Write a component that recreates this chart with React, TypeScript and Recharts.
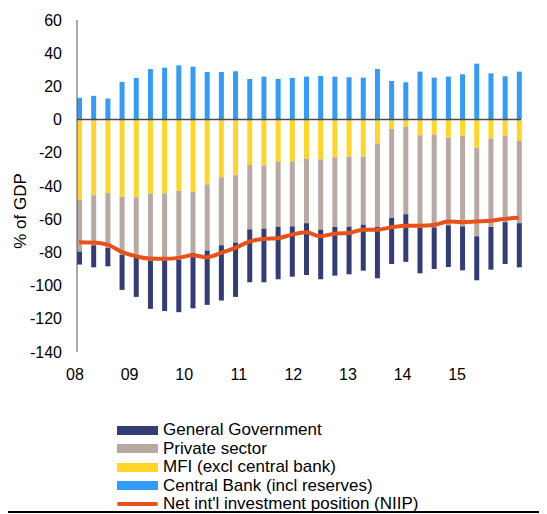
import { ComposedChart, Bar, Line, XAxis, YAxis, ReferenceLine } from 'recharts'

// quarterly, 2008Q1 .. 2015Q4 (% of GDP)
const quarters = [
  '08Q1', '08Q2', '08Q3', '08Q4', '09Q1', '09Q2', '09Q3', '09Q4',
  '10Q1', '10Q2', '10Q3', '10Q4', '11Q1', '11Q2', '11Q3', '11Q4',
  '12Q1', '12Q2', '12Q3', '12Q4', '13Q1', '13Q2', '13Q3', '13Q4',
  '14Q1', '14Q2', '14Q3', '14Q4', '15Q1', '15Q2', '15Q3', '15Q4',
]
const yearTicks = [8, 9, 10, 11, 12, 13, 14, 15]
const yearLabels = ['08', '09', '10', '11', '12', '13', '14', '15']

const centralBank = [
  13.1, 14.3, 12.7, 22.7, 25.1, 30.5, 31.3, 32.7,
  31.9, 28.7, 28.7, 29.1, 24.5, 25.9, 24.5, 25.1,
  25.9, 26.3, 25.9, 25.5, 25.3, 30.5, 23.3, 22.5,
  28.9, 25.3, 25.9, 27.3, 33.7, 27.9, 26.1, 28.9,
]
const mfi = [
  -48.2, -45.6, -44.2, -46.4, -46.8, -44.6, -44.4, -42.8,
  -43.6, -39.0, -34.7, -33.5, -27.1, -27.7, -25.5, -25.1,
  -23.5, -23.9, -22.7, -22.3, -22.3, -14.3, -5.6, -4.2,
  -9.4, -9.0, -11.0, -9.8, -16.9, -11.4, -9.6, -12.9,
]
const privateSector = [
  -31.3, -30.1, -33.1, -35.1, -36.5, -40.3, -40.5, -41.5,
  -36.7, -39.9, -41.0, -40.6, -39.0, -38.0, -39.0, -39.2,
  -38.9, -42.4, -42.0, -42.2, -41.0, -50.4, -53.6, -52.8,
  -55.9, -55.9, -52.7, -54.5, -53.4, -53.3, -52.2, -49.5,
]
const generalGov = [
  -7.8, -13.3, -11.1, -21.1, -23.5, -29.1, -30.4, -31.7,
  -33.4, -32.7, -33.3, -32.7, -31.9, -32.3, -31.7, -30.3,
  -31.2, -29.9, -29.3, -28.7, -27.7, -30.9, -27.8, -28.7,
  -27.3, -25.1, -25.1, -26.5, -26.5, -25.7, -25.2, -26.6,
]
const niip = [
  -73.9, -74.1, -75.3, -79.7, -82.3, -83.7, -83.9, -83.3,
  -81.7, -82.9, -80.3, -77.3, -73.5, -71.9, -71.5, -69.3,
  -67.9, -70.3, -68.7, -68.3, -66.3, -66.3, -64.9, -63.9,
  -63.9, -63.5, -61.4, -61.8, -61.4, -61.0, -59.8, -59.2,
]
const yTicks = [60, 40, 20, 0, -20, -40, -60, -80, -100, -120, -140]

const data = quarters.map((q, i) => ({
  q,
  // year as a number (08Q1 -> 8, 08Q3 -> 8.5), only used to place the year labels
  t: Number(q.slice(0, 2)) + (Number(q[3]) - 1) / 4,
  cb: centralBank[i],
  mfi: mfi[i],
  priv: privateSector[i],
  gg: generalGov[i],
  niip: niip[i],
}))

const NAVY = '#333c74'
const TAUPE = '#b8aaa2'
const YELLOW = '#ffd628'
const BLUE = '#339bfa'
const ORANGE = '#e8521a'

const legendItems = [
  { name: 'General Government', color: NAVY, line: false },
  { name: 'Private sector', color: TAUPE, line: false },
  { name: 'MFI (excl central bank)', color: YELLOW, line: false },
  { name: 'Central Bank (incl reserves)', color: BLUE, line: false },
  { name: "Net int'l investment position (NIIP)", color: ORANGE, line: true },
]

const FONT = '"Liberation Sans", Arial, sans-serif'

const App = () => {
  return (
    <div style={{ position: 'relative', width: 539, height: 506, fontFamily: FONT }}>
      <ComposedChart
        width={539}
        height={374}
        data={data}
        stackOffset='sign'
        margin={{ top: 12, right: 26, bottom: 0, left: 0 }}
      >
        <XAxis dataKey='q' hide height={0} padding={{ left: -5, right: -5 }} />
        <XAxis
          xAxisId='yr'
          dataKey='t'
          type='number'
          domain={[8, 16.17]}
          allowDataOverflow
          ticks={yearTicks}
          interval={0}
          tickFormatter={(v) => yearLabels[yearTicks.indexOf(v)]}
          padding={{ left: -2, right: 0 }}
          height={30}
          axisLine={false}
          tickLine={false}
          tickSize={0}
          tickMargin={17}
          tick={{ fill: '#000', fontSize: 16, fontFamily: FONT }}
        />
        <YAxis
          width={69}
          domain={[-140, 60]}
          ticks={yTicks}
          interval={0}
          allowDataOverflow
          stroke='#555'
          tickLine={false}
          tickSize={0}
          tickMargin={15}
          tick={{ fill: '#000', fontSize: 16, fontFamily: FONT }}
          label={{
            value: '% of GDP',
            angle: -90,
            position: 'center',
            dx: -23,
            dy: 25,
            style: { fill: '#000', fontSize: 17, fontFamily: FONT },
          }}
        />
        <Bar dataKey='cb' stackId='a' fill={BLUE} barSize={5} isAnimationActive={false} />
        <Bar dataKey='mfi' stackId='a' fill={YELLOW} barSize={5} isAnimationActive={false} />
        <Bar dataKey='priv' stackId='a' fill={TAUPE} barSize={5} isAnimationActive={false} />
        <Bar dataKey='gg' stackId='a' fill={NAVY} barSize={5} isAnimationActive={false} />
        <ReferenceLine y={0} stroke='#4a4a4a' strokeWidth={1.5} />
        <Line
          dataKey='niip'
          type='monotone'
          stroke={ORANGE}
          strokeWidth={4}
          dot={false}
          activeDot={false}
          isAnimationActive={false}
        />
      </ComposedChart>

      <div style={{ position: 'absolute', left: 109, top: 413 }}>
        {legendItems.map((it) => (
          <div key={it.name} style={{ display: 'flex', alignItems: 'center', height: 18.5 }}>
            <span
              style={{
                display: 'inline-block',
                width: 41,
                height: it.line ? 4 : 9,
                borderRadius: it.line ? 2 : 0,
                background: it.color,
                marginRight: 5,
              }}
            />
            <span style={{ fontSize: 17, lineHeight: '18.5px', color: '#000' }}>{it.name}</span>
          </div>
        ))}
      </div>

      <div style={{ position: 'absolute', left: -8, top: 503, width: 541, height: 1.5, background: '#000' }} />
    </div>
  )
}

export default App
